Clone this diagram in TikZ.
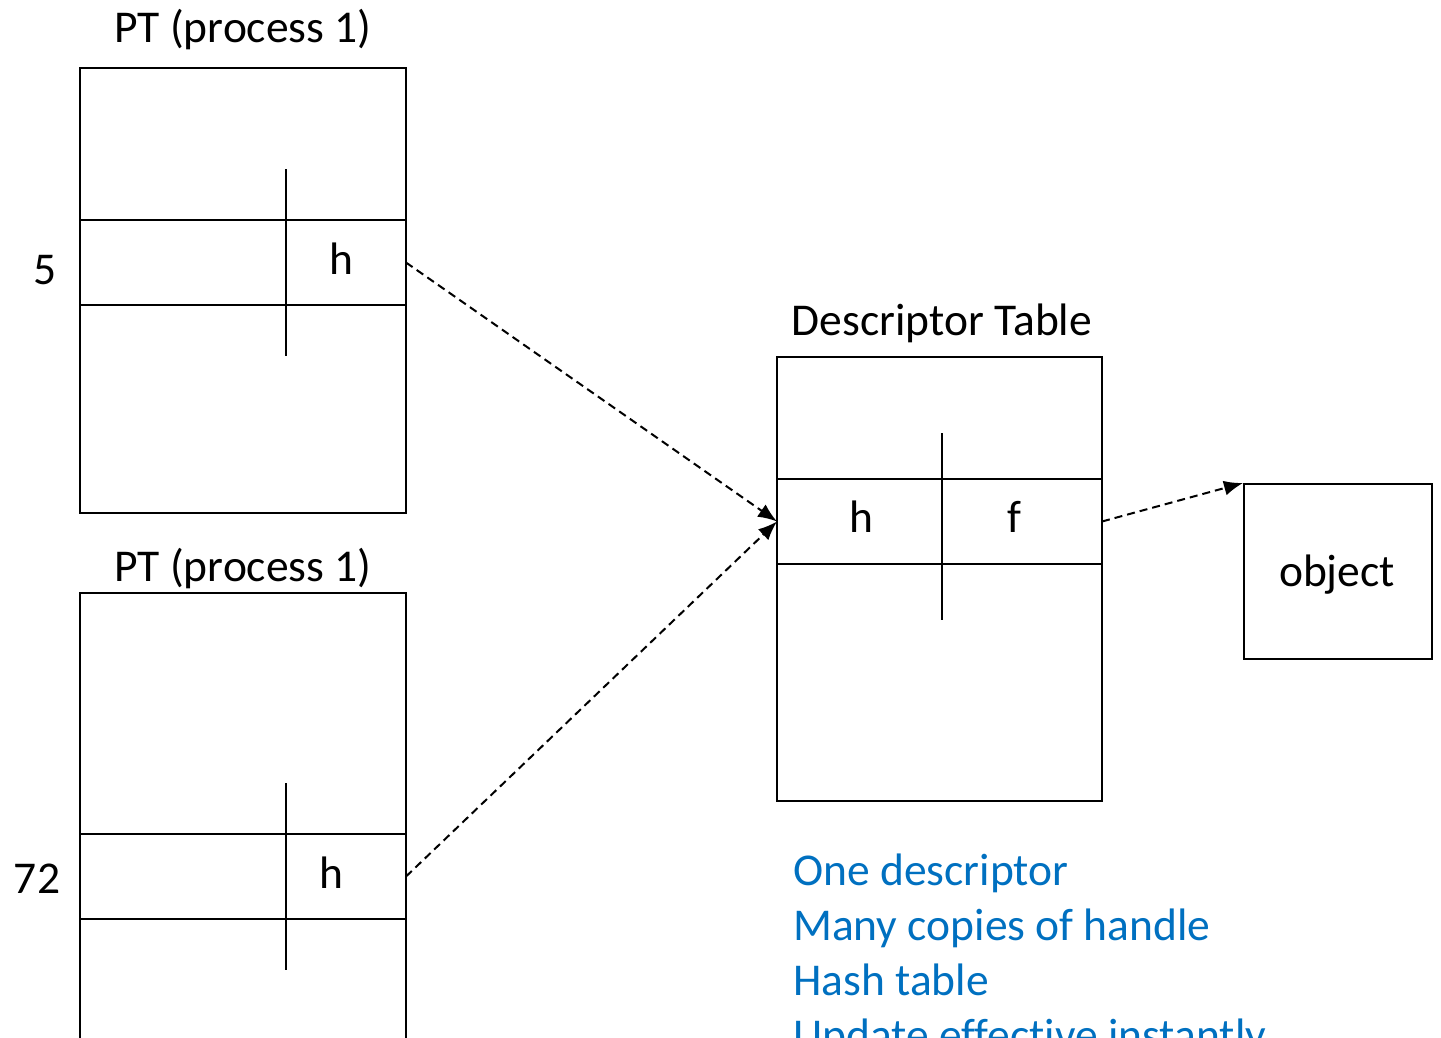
\documentclass[tikz,border=0pt]{standalone}
\usepackage{fontspec}
\setmainfont{Carlito}[Ligatures=NoCommon]
\usetikzlibrary{arrows.meta}
\definecolor{noteblue}{HTML}{0070C0}
\begin{document}
\begin{tikzpicture}[x=1pt,y=-1pt,
  frame/.style={draw,line width=2.2pt},
  txt/.style={anchor=base,inner sep=0pt,font=\fontsize{45.5}{54}\selectfont},
  note/.style={anchor=base west,inner sep=0pt,text=noteblue,font=\fontsize{45.5}{54}\selectfont},
  link/.style={line width=2pt,dash pattern=on 8pt off 5pt,-{Latex[length=19pt,width=15pt]}}]
\useasboundingbox (0,0) rectangle (1441,1037);
\clip (0,0) rectangle (1441,1037);

% page table of the first process
\node[txt] (t1) at (243,42) {PT (process 1)};
\draw[frame] (80,68) rectangle (406,513);
\coordinate (r1e) at (406,262.5);
\draw[frame] (80,220) -- (406,220) (80,305) -- (406,305);
\draw[frame] (286,169) -- (286,356);
\node[txt] (i1) at (45,284) {5};
\node[txt] (h1) at (341,274) {h};

% page table of the second process
\node[txt] (t2) at (243,581) {PT (process 1)};
\draw[frame] (80,1100) -- (80,593) -- (406,593) -- (406,1100);
\coordinate (r2e) at (406,876.5);
\draw[frame] (80,834) -- (406,834) (80,919) -- (406,919);
\draw[frame] (286,783) -- (286,970);
\node[txt] (i2) at (37,893) {72};
\node[txt] (h2) at (331,888) {h};

% descriptor table
\node[txt] (td) at (942,335) {Descriptor Table};
\draw[frame] (777,357) rectangle (1102,801);
\draw[frame] (777,479) -- (1102,479) (777,564) -- (1102,564);
\draw[frame] (942,433) -- (942,620);
\coordinate (dw) at (777,521.5);
\coordinate (de) at (1102,521.5);
\node[txt] (dh) at (861,532) {h};
\node[txt] (df) at (1014,532) {f};

% object
\node[draw,line width=2.2pt,minimum width=188pt,minimum height=175pt,inner sep=0pt,anchor=north west] (obj) at (1243,483) {};
\node[txt] (ot) at (1337,586) {object};

% handle references
\draw[link] (r1e) -- (dw);
\draw[link] (r2e) -- (dw);
\draw[link] (de) -- (obj.north west);

% notes
\node[note] (n1) at (793,885) {One descriptor};
\node[note] (n2) at (793,940) {Many copies of handle};
\node[note] (n3) at (793,995) {Hash table};
\node[note] (n4) at (793,1050) {Update effective instantly};
\end{tikzpicture}
\end{document}
